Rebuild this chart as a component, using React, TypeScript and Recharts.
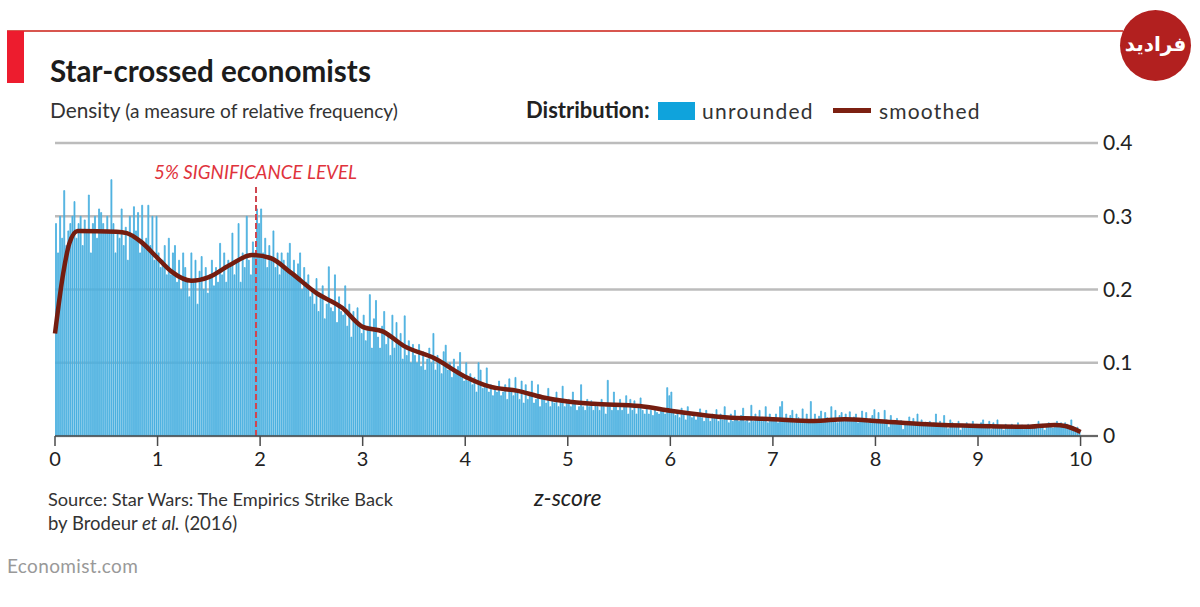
import {
  ComposedChart,
  Bar,
  Line,
  XAxis,
  YAxis,
  CartesianGrid,
  ReferenceLine,
} from "recharts";

const FONT = "Lato, 'Noto Sans', sans-serif";

const xTicks = [0, 1, 2, 3, 4, 5, 6, 7, 8, 9, 10];
const yTicks = [0, 0.1, 0.2, 0.3, 0.4];
const significanceZ = 1.96;
const binWidth = 0.02;

// unrounded histogram, one row per half z-score
const unrounded = [
  .29,.25,.30,.27,.335,.26,.28,.29,.30,.32,.27,.29,.30,.26,.295,.28,.329,.25,.29,.30,.27,.31,.305,.29,.28,
  .30,.28,.35,.29,.25,.28,.27,.31,.26,.285,.24,.30,.27,.313,.28,.305,.25,.315,.26,.27,.315,.26,.30,.24,.30,
  .25,.23,.24,.26,.22,.27,.22,.25,.26,.21,.24,.20,.25,.23,.215,.19,.25,.21,.24,.18,.225,.245,.20,.23,.195,
  .22,.24,.205,.23,.21,.263,.22,.25,.21,.24,.23,.277,.22,.24,.29,.21,.25,.23,.30,.24,.22,.265,.25,.31,.29,
  .31,.25,.27,.23,.26,.245,.28,.23,.25,.22,.25,.24,.23,.25,.263,.22,.24,.215,.235,.25,.20,.23,.21,.22,.19,
  .20,.18,.215,.17,.19,.205,.16,.18,.231,.175,.17,.22,.155,.19,.17,.165,.205,.15,.18,.135,.17,.16,.175,.15,.14,
  .165,.13,.15,.193,.12,.16,.185,.135,.12,.15,.17,.125,.14,.11,.165,.12,.155,.13,.14,.105,.164,.11,.13,.10,.125,
  .11,.10,.125,.095,.115,.09,.105,.12,.10,.14,.09,.11,.105,.085,.115,.124,.09,.10,.08,.105,.085,.095,.114,.08,.075,
  .10,.075,.085,.07,.08,.06,.10,.09,.065,.07,.093,.06,.07,.055,.065,.06,.075,.055,.06,.07,.05,.078,.062,.055,.08,
  .06,.05,.075,.045,.07,.05,.055,.075,.045,.05,.07,.04,.055,.05,.045,.065,.04,.05,.045,.06,.04,.05,.068,.04,.048,
  .05,.04,.06,.045,.035,.04,.07,.04,.035,.05,.04,.048,.035,.045,.04,.035,.05,.04,.03,.076,.04,.035,.06,.04,.035,
  .05,.035,.04,.055,.03,.05,.035,.048,.03,.04,.052,.035,.03,.04,.03,.035,.028,.04,.032,.03,.037,.035,.03,.066,.055,
  .06,.032,.028,.035,.025,.038,.03,.022,.04,.03,.025,.032,.022,.03,.037,.025,.02,.035,.028,.02,.03,.025,.036,.02,.03,
  .022,.04,.025,.018,.03,.02,.035,.025,.02,.028,.038,.02,.024,.018,.042,.02,.03,.022,.035,.02,.025,.04,.018,.03,.022,
  .025,.03,.018,.04,.047,.022,.03,.02,.028,.035,.018,.03,.025,.02,.037,.022,.03,.018,.047,.022,.03,.02,.027,.034,.018,
  .032,.025,.02,.04,.022,.035,.018,.028,.032,.02,.03,.022,.033,.02,.026,.03,.018,.022,.034,.02,.032,.018,.024,.028,.036,
  .022,.032,.018,.02,.035,.022,.012,.028,.02,.018,.024,.016,.021,.009,.015,.02,.026,.017,.024,.015,.03,.018,.022,.014,.019,
  .016,.02,.014,.018,.03,.015,.02,.014,.028,.016,.01,.022,.018,.012,.016,.02,.008,.016,.014,.018,.012,.015,.02,.013,.016,
  .014,.018,.022,.012,.016,.02,.009,.018,.014,.022,.012,.014,.008,.016,.013,.012,.016,.011,.014,.018,.012,.015,.009,.013,.016,
  .012,.015,.011,.014,.02,.012,.016,.008,.014,.018,.012,.011,.015,.02,.012,.018,.014,.018,.016,.012,.022,.013,.011,.012,.008,
];

const smoothedZ = [0, 0.08, 0.14, 0.22, 0.6, 0.7, 0.84, 1, 1.14, 1.33, 1.5, 1.7, 1.92, 2.1, 2.3, 2.55, 2.8, 3, 3.2, 3.4, 3.7, 4, 4.25, 4.5, 4.75, 5, 5.25, 5.7, 6, 6.3, 6.5, 7, 7.4, 7.7, 8, 8.5, 9, 9.5, 9.75, 9.85, 10];
const smoothedDensity = [0.14, 0.222, 0.263, 0.28, 0.279, 0.277, 0.265, 0.243, 0.224, 0.212, 0.217, 0.233, 0.247, 0.243, 0.223, 0.195, 0.175, 0.149, 0.1425, 0.123, 0.106, 0.081, 0.067, 0.062, 0.053, 0.047, 0.044, 0.041, 0.0345, 0.029, 0.026, 0.023, 0.0205, 0.023, 0.0205, 0.016, 0.0137, 0.0127, 0.015, 0.0137, 0.0055];

const histogramData = unrounded.map((density, i) => ({ z: (i + 0.5) * binWidth, density }));
const smoothedData = smoothedZ.map((z, i) => ({ z, smooth: smoothedDensity[i] }));

function Txt({ x, y, size, color = "#222", bold, italic, spacing, children }: any) {
  return (
    <div
      style={{
        position: "absolute",
        left: x,
        top: y,
        fontSize: size,
        lineHeight: 1,
        color,
        whiteSpace: "nowrap",
        fontWeight: bold ? 700 : 400,
        fontStyle: italic ? "italic" : "normal",
        letterSpacing: spacing,
      }}
    >
      {children}
    </div>
  );
}

export default function App() {
  return (
    <div style={{ position: "absolute", left: 0, top: 0, width: 1200, height: 607, background: "#fff", overflow: "hidden", fontFamily: FONT }}>
      <div style={{ position: "absolute", left: 7, top: 30, width: 1116, height: 2, background: "#d8564f" }} />
      <div style={{ position: "absolute", left: 7, top: 31, width: 17, height: 52, background: "#ed1c2e" }} />
      <div style={{ position: "absolute", left: 1120, top: 10, width: 71, height: 71, borderRadius: "50%", background: "#b2201f", color: "#fff", fontFamily: "'DejaVu Sans'", fontWeight: 700, fontSize: 20, lineHeight: "68px", textAlign: "center" }}>
        فرادید
      </div>

      <Txt x={50} y={56} size={29.6} bold color="#1c1c1c">Star-crossed economists</Txt>
      <Txt x={50} y={100} size={20.8} color="#333">Density <span style={{ fontSize: 19.1 }}>(a measure of relative frequency)</span></Txt>
      <Txt x={526} y={99} size={22} bold color="#222">Distribution:</Txt>
      <div style={{ position: "absolute", left: 658, top: 102, width: 37, height: 18, background: "#0fa3dc" }} />
      <Txt x={702} y={100} size={21} color="#333" spacing={1.25}>unrounded</Txt>
      <div style={{ position: "absolute", left: 833, top: 108, width: 38, height: 5, background: "#7c2011" }} />
      <Txt x={879} y={100} size={21} color="#333" spacing={1.2}>smoothed</Txt>

      <ComposedChart
        width={1200}
        height={607}
        data={histogramData}
        margin={{ top: 143, right: 42, bottom: 131, left: 55 }}
        style={{ position: "absolute", left: 0, top: 0 }}
      >
        <CartesianGrid vertical={false} stroke="#bcbcbc" strokeWidth={2.5} />
        <XAxis
          dataKey="z"
          type="number"
          domain={[0, 10.17]}
          ticks={xTicks}
          interval={0}
          height={40}
          tickSize={10}
          tickMargin={6}
          stroke="#4a4a4a"
          strokeWidth={1.5}
          tick={{ fontSize: 20, fill: "#222", fontFamily: FONT }}
        />
        <YAxis
          orientation="right"
          domain={[0, 0.4]}
          ticks={yTicks}
          interval={0}
          width={60}
          axisLine={false}
          tickLine={false}
          tickMargin={-1}
          tickFormatter={(v) => (v === 0 ? "0" : v.toFixed(1))}
          tick={{ fontSize: 21, fill: "#222", fontFamily: FONT, textAnchor: "start" }}
        />
        <Bar dataKey="density" fill="#4ab0df" stroke="#4ab0df" strokeWidth={0.8} barSize={1} isAnimationActive={false} />
        <ReferenceLine
          segment={[{ x: significanceZ, y: 0 }, { x: significanceZ, y: 0.342 }]}
          stroke="#cf4650"
          strokeWidth={2}
          strokeDasharray="6 3"
        />
        <Line
          data={smoothedData}
          dataKey="smooth"
          type="monotone"
          stroke="#741d10"
          strokeWidth={4.5}
          dot={false}
          isAnimationActive={false}
        />
      </ComposedChart>

      <Txt x={154} y={163} size={18.8} italic color="#e0333c">5% SIGNIFICANCE LEVEL</Txt>
      <Txt x={534} y={486} size={23} italic color="#222">z-score</Txt>
      <Txt x={48} y={490} size={18.2} color="#333">Source: Star Wars: The Empirics Strike Back</Txt>
      <Txt x={48} y={514} size={18.5} color="#333">by Brodeur <i>et al.</i> (2016)</Txt>
      <Txt x={7} y={556} size={19} color="#999" spacing={0.35}>Economist.com</Txt>
    </div>
  );
}
